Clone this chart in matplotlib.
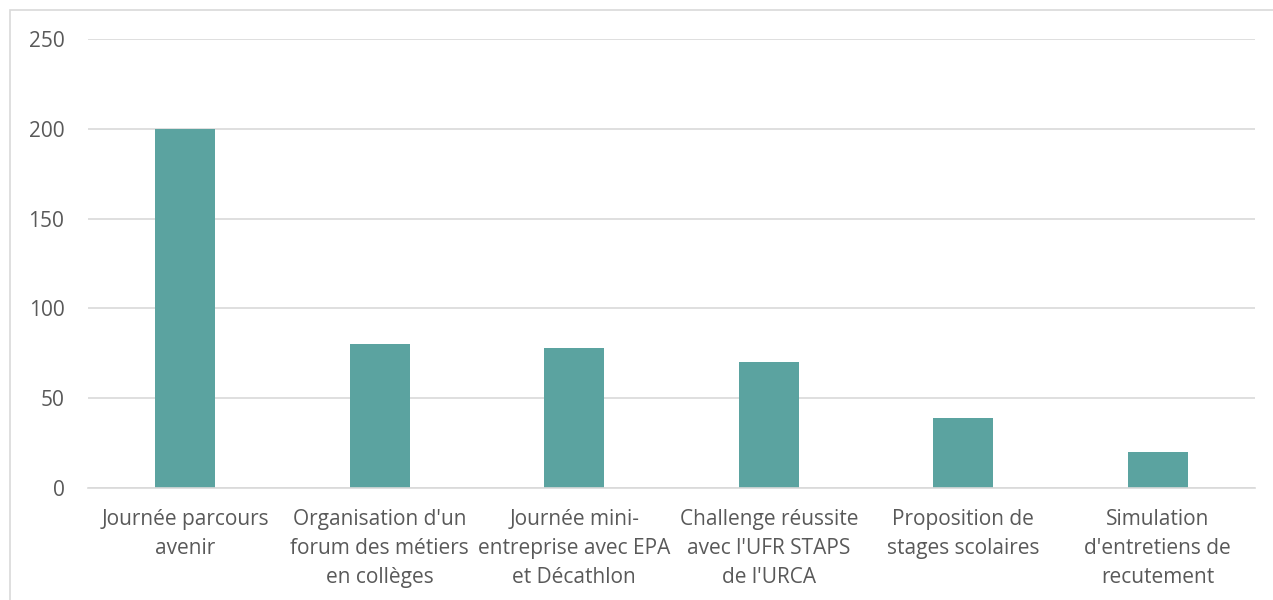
import matplotlib.pyplot as plt
from matplotlib.patches import Rectangle

# Actions and number of participants
actions = [
    "Journée parcours\navenir",
    "Organisation d'un\nforum des métiers\nen collèges",
    "Journée mini-\nentreprise avec EPA\net Décathlon",
    "Challenge réussite\navec l'UFR STAPS\nde l'URCA",
    "Proposition de\nstages scolaires",
    "Simulation\nd'entretiens de\nrecutement",
]
participants = [200, 80, 78, 70, 39, 20]
y_ticks = [0, 50, 100, 150, 200, 250]

plt.rcParams['font.family'] = ['Open Sans', 'DejaVu Sans']
text_color = '#595959'

fig = plt.figure(figsize=(12.73, 6.0), dpi=100)
ax = fig.add_axes([88 / 1273, 1 - 488 / 600, (1255 - 88) / 1273, (488 - 39) / 600])

x = range(len(actions))
ax.bar(x, participants, width=0.31, color='#5BA3A0', zorder=3)

ax.set_xlim(-0.5, len(actions) - 0.5)
ax.set_ylim(0, 250)
ax.set_yticks(y_ticks)
ax.set_xticks(list(x))
ax.set_xticklabels(actions, linespacing=1.5)
ax.yaxis.grid(True, color='#D9D9D9', linewidth=1.2, zorder=0)

for side in ['top', 'right', 'left']:
    ax.spines[side].set_visible(False)
ax.spines['bottom'].set_color('#D9D9D9')
ax.spines['bottom'].set_linewidth(1.2)
ax.spines['bottom'].set_zorder(4)

ax.tick_params(axis='both', length=0, labelsize=15, colors=text_color)
ax.tick_params(axis='y', pad=17)
ax.tick_params(axis='x', pad=15)

# chart area border
fig.add_artist(Rectangle((10 / 1273, -0.1), 1.2, (590 / 600) + 0.1,
                         transform=fig.transFigure, fill=False,
                         edgecolor='#D9D9D9', linewidth=1.2))

fig.savefig('out.png', dpi=100)
